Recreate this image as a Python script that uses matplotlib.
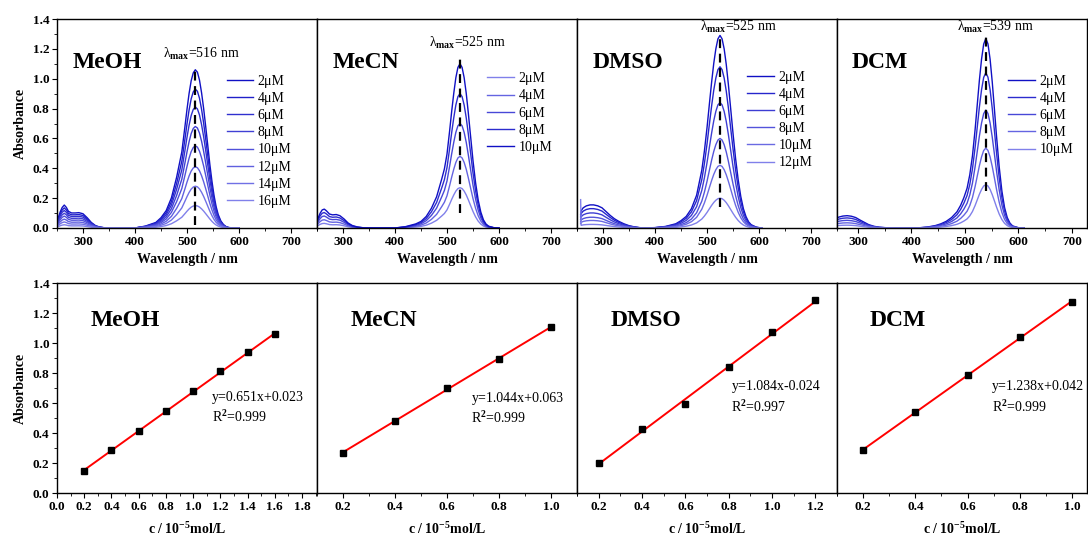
import numpy as np
import matplotlib
matplotlib.use("Agg")
import matplotlib.pyplot as plt
from matplotlib.ticker import MultipleLocator, AutoMinorLocator
from matplotlib.colors import LinearSegmentedColormap

plt.rcParams["font.family"] = ["Liberation Serif", "DejaVu Serif"]
plt.rcParams["font.weight"] = "bold"
plt.rcParams["mathtext.fontset"] = "custom"
plt.rcParams["mathtext.rm"] = "Liberation Serif"
plt.rcParams["mathtext.it"] = "Liberation Serif:italic"
plt.rcParams["mathtext.bf"] = "Liberation Serif:bold"

# --- DATA ---
solvents = ["MeOH", "MeCN", "DMSO", "DCM"]
lam_max = [516, 525, 525, 539]

# normalised spectral shapes (absorbance / peak absorbance)
meoh_wl = [252, 256, 260, 264, 268, 272, 278, 285, 292, 300, 308, 316, 324, 332, 340, 360,
           400, 420, 440, 450, 460, 470, 480, 490, 496, 500, 504, 508, 512, 516,
           520, 524, 528, 532, 536, 540, 544, 548, 552, 556, 560, 565, 570, 575, 580, 590, 600]
meoh_shape = [0.06, 0.10, 0.13, 0.145, 0.13, 0.105, 0.095, 0.095, 0.097, 0.09, 0.065, 0.035, 0.015, 0.006, 0.002, 0.0,
              0.0, 0.012, 0.035, 0.065, 0.11, 0.19, 0.32, 0.48, 0.64, 0.75, 0.85, 0.93, 0.98, 1.0,
              0.985, 0.935, 0.855, 0.755, 0.64, 0.52, 0.40, 0.295, 0.205, 0.135, 0.085, 0.045, 0.022, 0.009, 0.003, 0.0, 0.0]

mecn_wl = [252, 256, 260, 264, 268, 274, 280, 287, 294, 302, 310, 318, 328, 340, 360,
           400, 420, 440, 450, 460, 470, 480, 490, 495, 500, 505, 509, 513, 517, 521, 525,
           529, 533, 537, 541, 545, 550, 555, 560, 565, 570, 575, 580, 590, 600]
mecn_shape = [0.06, 0.09, 0.11, 0.115, 0.105, 0.085, 0.08, 0.082, 0.075, 0.055, 0.03, 0.015, 0.006, 0.001, 0.0,
              0.0, 0.008, 0.025, 0.04, 0.07, 0.12, 0.19, 0.30, 0.36, 0.45, 0.59, 0.71, 0.82, 0.915, 0.978, 1.0,
              0.978, 0.915, 0.82, 0.70, 0.57, 0.41, 0.275, 0.17, 0.097, 0.05, 0.024, 0.011, 0.002, 0.0]

dmso_wl = [257, 258, 262, 268, 275, 282, 290, 298, 306, 314, 322, 330, 340, 350, 360, 370, 380,
           400, 420, 440, 450, 460, 470, 480, 490, 495, 500, 505, 509, 513, 517, 521, 525,
           529, 533, 537, 541, 545, 550, 555, 560, 565, 570, 575, 580, 585, 595, 605]
dmso_shape = [0.07, 0.09, 0.105, 0.115, 0.12, 0.12, 0.115, 0.105, 0.085, 0.065, 0.048, 0.035, 0.022, 0.012, 0.006, 0.002, 0.0,
              0.002, 0.008, 0.022, 0.038, 0.06, 0.10, 0.17, 0.30, 0.40, 0.52, 0.655, 0.76, 0.855, 0.93, 0.982, 1.0,
              0.982, 0.93, 0.85, 0.748, 0.635, 0.492, 0.36, 0.25, 0.163, 0.10, 0.059, 0.032, 0.017, 0.004, 0.0]
dmso_edge_spike = 0.19  # first point of the weakest DMSO trace

dcm_wl = [252, 258, 265, 272, 280, 288, 296, 304, 312, 320, 330, 340, 355, 370,
          410, 430, 445, 455, 465, 475, 485, 492, 498, 504, 509, 514, 519, 523, 527, 531, 535, 539,
          543, 547, 551, 555, 559, 564, 569, 574, 579, 584, 589, 599, 610]
dcm_shape = [0.035, 0.05, 0.058, 0.063, 0.065, 0.062, 0.055, 0.042, 0.03, 0.018, 0.009, 0.004, 0.001, 0.0,
             0.0, 0.005, 0.013, 0.022, 0.035, 0.055, 0.085, 0.12, 0.16, 0.21, 0.28, 0.38, 0.52, 0.65, 0.78, 0.89, 0.97, 1.0,
             0.971, 0.89, 0.77, 0.629, 0.484, 0.322, 0.195, 0.108, 0.055, 0.026, 0.011, 0.002, 0.0]

# peak absorbance of each trace, in legend order
meoh_labels = ["2μM", "4μM", "6μM", "8μM", "10μM", "12μM", "14μM", "16μM"]
meoh_peaks = [1.06, 0.93, 0.81, 0.68, 0.55, 0.41, 0.28, 0.15]
mecn_labels = ["2μM", "4μM", "6μM", "8μM", "10μM"]
mecn_peaks = [0.27, 0.48, 0.70, 0.90, 1.10]
dmso_labels = ["2μM", "4μM", "6μM", "8μM", "10μM", "12μM"]
dmso_peaks = [1.29, 1.08, 0.84, 0.60, 0.42, 0.20]
dcm_labels = ["2μM", "4μM", "6μM", "8μM", "10μM"]
dcm_peaks = [1.27, 1.04, 0.79, 0.535, 0.29]

# calibration points (c / 1e-5 mol/L, absorbance)
meoh_c = [0.2, 0.4, 0.6, 0.8, 1.0, 1.2, 1.4, 1.6]
meoh_a = [0.149, 0.285, 0.412, 0.544, 0.682, 0.814, 0.941, 1.057]
mecn_c = [0.2, 0.4, 0.6, 0.8, 1.0]
mecn_a = [0.270, 0.477, 0.702, 0.896, 1.106]
dmso_c = [0.2, 0.4, 0.6, 0.8, 1.0, 1.2]
dmso_a = [0.200, 0.426, 0.593, 0.838, 1.074, 1.284]
dcm_c = [0.2, 0.4, 0.6, 0.8, 1.0]
dcm_a = [0.285, 0.537, 0.787, 1.041, 1.275]

fit_slope = [0.651, 1.044, 1.084, 1.238]
fit_icpt = [0.023, 0.063, -0.024, 0.042]
fit_text = ["y=0.651x+0.023", "y=1.044x+0.063", "y=1.084x-0.024", "y=1.238x+0.042"]
r2_text = ["0.999", "0.999", "0.997", "0.999"]

spec = [
    (meoh_wl, meoh_shape, meoh_labels, meoh_peaks),
    (mecn_wl, mecn_shape, mecn_labels, mecn_peaks),
    (dmso_wl, dmso_shape, dmso_labels, dmso_peaks),
    (dcm_wl, dcm_shape, dcm_labels, dcm_peaks),
]
calib = [(meoh_c, meoh_a), (mecn_c, mecn_a), (dmso_c, dmso_a), (dcm_c, dcm_a)]

# --- LAYOUT ---
W, H = 1088, 538
lefts = [57, 317, 577, 837]
widths = [260, 260, 260, 250]
top_xlim = [(250, 750), (250, 750), (250, 750), (261, 728)]
bot_xlim = [(0.0, 1.91), (0.1, 1.1), (0.1, 1.3), (0.1, 1.057)]
bot_xticks = [np.arange(0, 1.81, 0.2), np.arange(0.2, 1.01, 0.2),
              np.arange(0.2, 1.21, 0.2), np.arange(0.2, 1.01, 0.2)]
legend_anchor = [(0.652, 0.733), (0.655, 0.745), (0.655, 0.753), (0.685, 0.733)]
lam_text_x = [528, 539, 561, 556]
lam_text_y = [1.165, 1.24, 1.35, 1.35]
lam_line = [(0.02, 1.08), (0.10, 1.16), (0.14, 1.29), (0.25, 1.29)]
eq_pos = [(0.596, 0.455), (0.594, 0.45), (0.594, 0.505), (0.62, 0.505)]
color_dir = [1, -1, 1, 1]

cmap = LinearSegmentedColormap.from_list("blues", ["#1010c4", "#8080ea"])

fig = plt.figure(figsize=(W / 100, H / 100), dpi=100)


def style_axis(ax, first):
    ax.tick_params(axis="both", which="major", direction="out", length=3.5, width=0.8,
                   labelsize=9.5, pad=2)
    ax.tick_params(axis="both", which="minor", direction="out", length=2, width=0.6)
    for sp in ax.spines.values():
        sp.set_linewidth(1.0)
    if not first:
        ax.tick_params(axis="y", which="both", left=False, labelleft=False)


for i in range(4):
    wl, shape, labels, peaks = spec[i]
    ax = fig.add_axes([lefts[i] / W, 1 - 228 / H, widths[i] / W, 209 / H])
    n = len(peaks)
    cols = [cmap(k / (n - 1)) for k in range(n)]
    if color_dir[i] < 0:
        cols = cols[::-1]
    for k in range(n):
        x = np.array(wl, dtype=float)
        y = np.array(shape) * peaks[k]
        if i == 2 and k == n - 1:
            y[0] = dmso_edge_spike
        ax.plot(x, y, color=cols[k], lw=1.0, label=labels[k])
    ax.plot([lam_max[i], lam_max[i]], lam_line[i], color="black", lw=1.6,
            linestyle=(0, (4, 2.5)))
    ax.text(lam_text_x[i], lam_text_y[i], "λ$_{\\rm max}$=%d nm" % lam_max[i],
            ha="center", va="center", fontsize=10, fontweight="normal")
    ax.text(0.06, 0.79, solvents[i], transform=ax.transAxes, fontsize=17,
            fontweight="bold", va="center", ha="left")
    ax.legend(loc="upper left", bbox_to_anchor=legend_anchor[i], frameon=False,
              prop={"size": 10, "weight": "normal"}, handlelength=1.9,
              handletextpad=0.35, labelspacing=0.3, borderpad=0, borderaxespad=0)
    ax.set_xlim(*top_xlim[i])
    ax.set_ylim(0, 1.4)
    ax.set_xticks([300, 400, 500, 600, 700])
    ax.xaxis.set_minor_locator(MultipleLocator(50))
    ax.yaxis.set_major_locator(MultipleLocator(0.2))
    ax.yaxis.set_minor_locator(MultipleLocator(0.1))
    style_axis(ax, i == 0)
    ax.set_xlabel("Wavelength / nm", fontsize=10, fontweight="bold", labelpad=4)
    if i == 0:
        ax.set_ylabel("Absorbance", fontsize=10, fontweight="bold", labelpad=4)

for i in range(4):
    c, a = calib[i]
    ax = fig.add_axes([lefts[i] / W, 1 - 493 / H, widths[i] / W, 210 / H])
    xs = np.array([c[0], c[-1]])
    ax.plot(xs, fit_slope[i] * xs + fit_icpt[i], color="red", lw=1.4, zorder=2)
    ax.plot(c, a, "s", color="black", ms=3.8, zorder=3)
    ax.text(0.13, 0.82, solvents[i], transform=ax.transAxes, fontsize=17,
            fontweight="bold", va="center", ha="left")
    ex, ey = eq_pos[i]
    ax.text(ex, ey, fit_text[i], transform=ax.transAxes, fontsize=10,
            fontweight="normal", va="center", ha="left")
    ax.text(ex, ey - 0.095, "R$^2$=" + r2_text[i], transform=ax.transAxes, fontsize=10,
            fontweight="normal", va="center", ha="left")
    ax.set_xlim(*bot_xlim[i])
    ax.set_ylim(0, 1.4)
    ax.set_xticks(bot_xticks[i])
    ax.xaxis.set_minor_locator(AutoMinorLocator(2))
    ax.yaxis.set_major_locator(MultipleLocator(0.2))
    ax.yaxis.set_minor_locator(MultipleLocator(0.1))
    style_axis(ax, i == 0)
    ax.set_xlabel("c / 10$^{\\mathbf{-5}}$mol/L", fontsize=10, fontweight="bold", labelpad=6)
    if i == 0:
        ax.set_ylabel("Absorbance", fontsize=10, fontweight="bold", labelpad=4)

fig.savefig("out.png", dpi=100)
